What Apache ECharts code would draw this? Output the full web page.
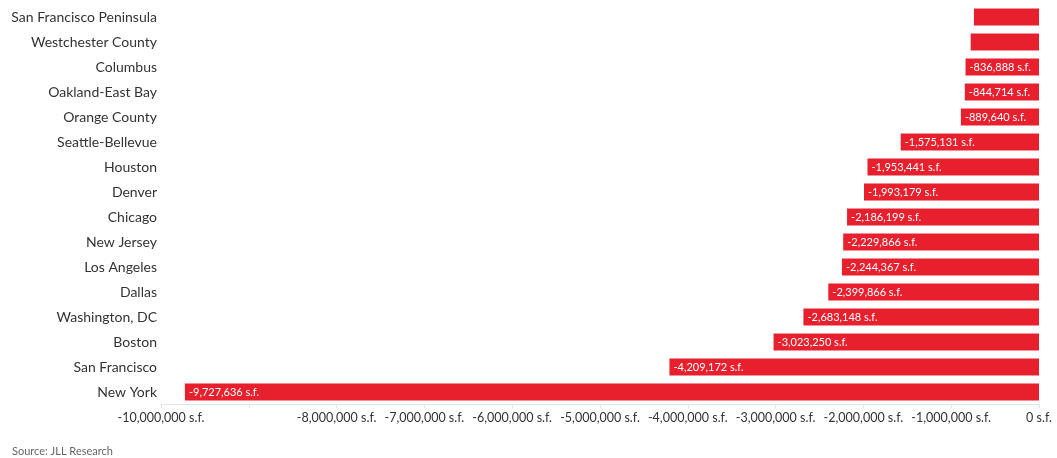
<!DOCTYPE html>
<html>
<head>
<meta charset="utf-8">
<script src="https://cdn.jsdelivr.net/npm/echarts@6/dist/echarts.min.js"></script>
<style>
html,body{margin:0;padding:0;background:#fff;}
#chart{width:1057px;height:458px;}
</style>
</head>
<body>
<div id="chart"></div>
<script>
const categories = ["San Francisco Peninsula","Westchester County","Columbus","Oakland-East Bay","Orange County","Seattle-Bellevue","Houston","Denver","Chicago","New Jersey","Los Angeles","Dallas","Washington, DC","Boston","San Francisco","New York"];
const values = [-741000,-778000,-836888,-844714,-889640,-1575131,-1953441,-1993179,-2186199,-2229866,-2244367,-2399866,-2683148,-3023250,-4209172,-9727636];
const labelShown = [false,false,true,true,true,true,true,true,true,true,true,true,true,true,true,true];
const tickValuesShown = [-10000000,-8000000,-7000000,-6000000,-5000000,-4000000,-3000000,-2000000,-1000000,0];
const sourceText = "Source: JLL Research";

const fmt = v => Math.round(v).toLocaleString('en-US') + ' s.f.';
const FONT = 'Lato, "Open Sans", sans-serif';

const chart = echarts.init(document.getElementById('chart'), null, {renderer:'canvas'});
chart.setOption({
  animation:false,
  backgroundColor:'#fff',
  grid:{left:161, right:18, top:4.5, height:400},
  title:{text:sourceText, left:7, top:441, textStyle:{fontSize:11, fontWeight:'normal', color:'#666', fontFamily:FONT}},
  xAxis:{
    type:'value', min:-10000000, max:0, interval:1000000,
    axisLine:{show:true, lineStyle:{color:'#e6e6e6'}},
    axisTick:{show:true, length:4, lineStyle:{color:'#e6e6e6'}},
    splitLine:{show:false},
    axisLabel:{
      margin:7, fontSize:12.5, color:'#333', fontFamily:FONT,
      formatter: v => tickValuesShown.indexOf(v) >= 0 ? fmt(v) : ''
    }
  },
  yAxis:{
    type:'category', data:categories, inverse:true,
    axisLine:{show:false}, axisTick:{show:false},
    axisLabel:{margin:4, fontSize:14, color:'#333', fontFamily:FONT}
  },
  series:[{
    type:'bar',
    barWidth:17,
    data: values.map((v,i)=>({value:v, label:{show:labelShown[i]}})),
    itemStyle:{color:'#E8202E'},
    label:{
      show:true, position:'insideLeft', distance:4,
      color:'#fff', fontSize:11, fontFamily:FONT,
      formatter: p => fmt(p.value)
    }
  }]
});
</script>
</body>
</html>
